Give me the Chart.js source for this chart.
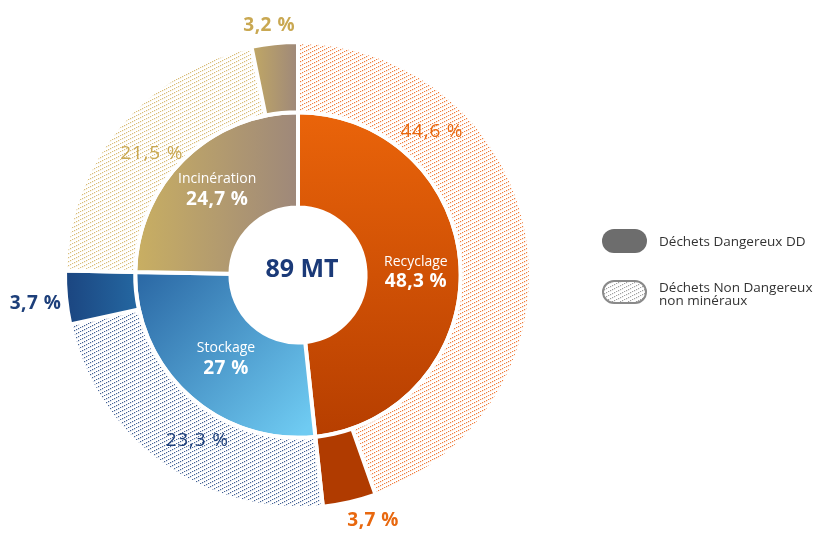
<!DOCTYPE html>
<html>
<head>
<meta charset="utf-8">
<script src="https://cdn.jsdelivr.net/npm/chart.js@4.4.0/dist/chart.umd.min.js"></script>
<style>
  html, body { margin: 0; padding: 0; background: #fff; }
  #wrap { width: 817px; height: 533px; position: relative; }
</style>
</head>
<body>
<div id="wrap"><canvas id="myChart" width="817" height="533"></canvas></div>
<script>
// data
const categories = ['Recyclage', 'Stockage', 'Incinération']
const totals = [48.3, 27, 24.7]
const nonDangerous = [44.6, 23.3, 21.5]
const dangerous = [3.7, 3.7, 3.2]
const totalLabel = '89 MT'
const legendLabels = ['Déchets Dangereux DD', ['Déchets Non Dangereux', 'non minéraux']]

const outerValues = []
nonDangerous.forEach((v, i) => { outerValues.push(v, dangerous[i]) })

const fmt = v => String(v).replace('.', ',') + ' %'

const canvas = document.getElementById('myChart')
const ctx = canvas.getContext('2d')

// dotted diagonal hatch for the "non dangereux" parts
function hatch(color) {
  const c = document.createElement('canvas')
  c.width = 8; c.height = 4
  const g = c.getContext('2d')
  g.fillStyle = color
  for (let i = 0; i < 4; i++) g.fillRect(i * 2, 3 - i, 1.2, 1.2)
  return ctx.createPattern(c, 'repeat')
}

const hatchColors = [hatch('rgba(238,112,40,0.9)'), hatch('rgba(35,70,130,0.85)'), hatch('rgba(210,178,95,0.85)')]
const labelColors = ['#e8680f', '#1d3f7a', '#c9a852']
const FONT = "'Open Sans', sans-serif"

function geo(chart) {
  const a = chart.chartArea
  const cx = (a.left + a.right) / 2, cy = (a.top + a.bottom) / 2
  const R = (Math.min(a.right - a.left, a.bottom - a.top) - 4) / 2
  return { cx, cy, R }
}

function innerColor(c) {
  const chart = c.chart
  if (!chart.chartArea) return '#ccc'
  const { cx, cy, R } = geo(chart)
  const r = R * 0.7
  let g
  if (c.dataIndex === 0) {
    g = ctx.createLinearGradient(0, cy - r, 0, cy + r)
    g.addColorStop(0, '#ea640a')
    g.addColorStop(1, '#b63e00')
  } else if (c.dataIndex === 1) {
    g = ctx.createLinearGradient(cx - r, cy + 10, cx, cy + r)
    g.addColorStop(0, '#2c6aa6')
    g.addColorStop(1, '#6fcbf2')
  } else {
    g = ctx.createLinearGradient(cx - r, 0, cx, 0)
    g.addColorStop(0, '#c9af62')
    g.addColorStop(1, '#9e887a')
  }
  return g
}

function outerColor(c) {
  const chart = c.chart
  const i = c.dataIndex
  if (i % 2 === 0) return hatchColors[i / 2]
  if (!chart.chartArea) return '#888'
  const { cx, cy, R } = geo(chart)
  let g
  if (i === 1) return '#b03b00'
  if (i === 3) {
    g = ctx.createLinearGradient(cx - R, 0, cx - R * 0.7, 0)
    g.addColorStop(0, '#1b4580')
    g.addColorStop(1, '#2466a0')
  } else {
    g = ctx.createLinearGradient(cx - R * 0.24, 0, cx, 0)
    g.addColorStop(0, '#c8ae60')
    g.addColorStop(1, '#9e887a')
  }
  return g
}

// label placement: [angle deg clockwise from top, distance / R]
const innerLabelPos = [[88.5, 0.506], [220.9, 0.472], [316.7, 0.506]]
const outerLabelPos = [[43.1, 0.841], [163, 1.103], [211.3, 0.833], [263.7, 1.133], [309.6, 0.815], [353.4, 1.077]]

const legendHatch = hatch('rgba(120,120,120,0.7)')

const labelsPlugin = {
  id: 'labels',
  afterDatasetsDraw(chart) {
    const c = chart.ctx
    const { cx, cy, R } = geo(chart)
    const at = (p) => {
      const a = p[0] * Math.PI / 180
      return [cx + Math.sin(a) * p[1] * R, cy - Math.cos(a) * p[1] * R]
    }
    c.save()
    c.textAlign = 'center'
    c.textBaseline = 'middle'
    categories.forEach((name, i) => {
      const [x, y] = at(innerLabelPos[i])
      c.fillStyle = '#ffffff'
      c.letterSpacing = '0px'
      c.font = '14px ' + FONT
      c.fillText(name, x, y - 10)
      c.letterSpacing = '0.4px'
      c.font = 'bold 19px ' + FONT
      c.fillText(fmt(totals[i]), x, y + 10)
    })
    outerValues.forEach((v, i) => {
      const [x, y] = at(outerLabelPos[i])
      c.fillStyle = labelColors[Math.floor(i / 2)]
      c.letterSpacing = i % 2 ? '0.5px' : '0.8px'
      c.font = (i % 2 ? 'bold ' : '') + '19px ' + FONT
      c.fillText(fmt(v), x, y)
    })
    c.letterSpacing = '0px'
    c.fillStyle = '#1b3a78'
    c.font = 'bold 25px ' + FONT
    c.fillText(totalLabel, cx + 4, cy - 5)

    // legend
    c.textAlign = 'left'
    c.fillStyle = '#6d6d6d'
    c.beginPath()
    c.roundRect(602, 229, 45, 24, 12)
    c.fill()
    c.beginPath()
    c.roundRect(603, 281, 43, 22, 11)
    c.fillStyle = '#fff'
    c.fill()
    c.fillStyle = legendHatch
    c.fill()
    c.strokeStyle = '#8a8a8a'
    c.lineWidth = 2
    c.stroke()
    c.fillStyle = '#333'
    c.font = '13.5px ' + FONT
    c.fillText(legendLabels[0], 659, 242)
    c.fillText(legendLabels[1][0], 659, 288)
    c.fillText(legendLabels[1][1], 659, 301)
    c.restore()
  }
}

const myChart = new Chart(ctx, {
  type: 'doughnut',
  data: {
    labels: outerValues.map((v, i) => categories[Math.floor(i / 2)]),
    datasets: [{
      data: outerValues,
      backgroundColor: outerColor,
      borderColor: '#ffffff',
      borderWidth: 4,
      weight: 70
    }, {
      data: totals,
      backgroundColor: innerColor,
      borderColor: '#ffffff',
      borderWidth: 4,
      weight: 95
    }]
  },
  options: {
    responsive: false,
    animation: false,
    events: [],
    cutout: '29%',
    layout: {
      padding: { left: 63, top: 40, right: 284, bottom: 23 }
    },
    plugins: {
      legend: { display: false },
      tooltip: { enabled: false }
    }
  },
  plugins: [labelsPlugin]
});
</script>
</body>
</html>
